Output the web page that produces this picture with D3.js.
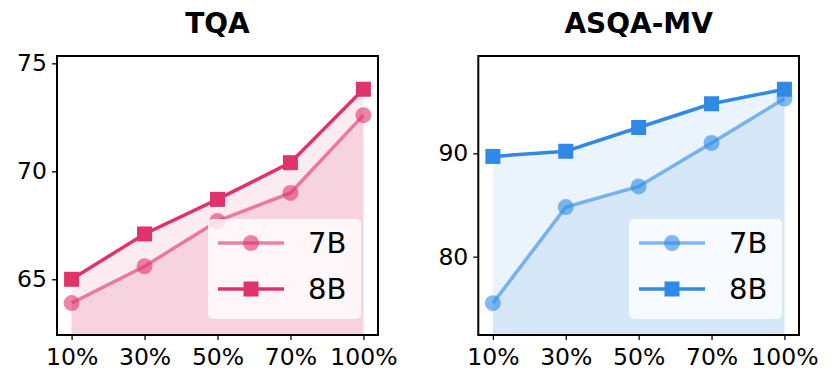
<!DOCTYPE html>
<html><head><meta charset="utf-8">
<script src="https://cdn.jsdelivr.net/npm/d3@7"></script>
<style>body{margin:0;background:#fff}svg{display:block;font-family:"DejaVu Sans",sans-serif}</style>
</head><body><svg id="c" width="831" height="385"></svg>
<script>
const categories = ["10%","30%","50%","70%","100%"];
const seriesNames = ["7B","8B"];
const tqa7B = [63.9, 65.6, 67.7, 69.0, 72.6];
const tqa8B = [65.0, 67.1, 68.7, 70.4, 73.8];
const asqa7B = [75.5, 84.8, 86.8, 91.0, 95.3];
const asqa8B = [89.7, 90.2, 92.5, 94.8, 96.2];
const tqaTicks = [65, 70, 75];
const asqaTicks = [80, 90];

const panels = [
  {title:"TQA", s7:tqa7B, s8:tqa8B, ticks:tqaTicks, domain:[62.42,75.34], x0:57, x1:378,
   c8:"#e0336b", fillLow:"#f7d3df", fillHigh:"#fcebf1"},
  {title:"ASQA-MV", s7:asqa7B, s8:asqa8B, ticks:asqaTicks, domain:[72.42,99.42], x0:478.3, x1:799,
   c8:"#2e8ae6", fillLow:"#d6e7f8", fillHigh:"#ebf3fc"}
];
const svg = d3.select("#c");
const plotTop = 56, plotBottom = 335;

panels.forEach(p => {
  const g = svg.append("g");
  const x = d3.scalePoint().domain(categories).range([p.x0, p.x1]).padding(0.2);
  const y = d3.scaleLinear().domain(p.domain).range([plotBottom, plotTop]);
  const idx = d3.range(categories.length);

  g.append("path").datum(idx).attr("fill", p.fillHigh)
    .attr("d", d3.area().x(i => x(categories[i])).y0(plotBottom).y1(i => y(p.s8[i])));
  g.append("path").datum(idx).attr("fill", p.fillLow)
    .attr("d", d3.area().x(i => x(categories[i])).y0(plotBottom).y1(i => y(p.s7[i])));

  const line = s => d3.line().x(i => x(categories[i])).y(i => y(s[i]));
  g.append("path").datum(idx).attr("fill","none").attr("stroke", p.c8).attr("stroke-opacity",0.6)
    .attr("stroke-width",3.5).attr("d", line(p.s7));
  g.selectAll(".c7").data(idx).enter().append("circle")
    .attr("cx", i => x(categories[i])).attr("cy", i => y(p.s7[i])).attr("r", 8)
    .attr("fill", p.c8).attr("fill-opacity",0.6);
  g.append("path").datum(idx).attr("fill","none").attr("stroke", p.c8)
    .attr("stroke-width",3.5).attr("d", line(p.s8));
  g.selectAll(".s8").data(idx).enter().append("rect")
    .attr("x", i => x(categories[i]) - 7.5).attr("y", i => y(p.s8[i]) - 7.5)
    .attr("width",15).attr("height",15).attr("fill", p.c8);

  const xa = g.append("g").attr("transform",`translate(0,${plotBottom})`)
    .call(d3.axisBottom(x).tickSize(5).tickPadding(8));
  xa.select(".domain").remove();
  xa.selectAll("line").attr("stroke","#000").attr("stroke-width",1.3);
  xa.selectAll("text").attr("font-size",23.5).attr("fill","#000").attr("font-family","DejaVu Sans");
  const ya = g.append("g").attr("transform",`translate(${p.x0},0)`)
    .call(d3.axisLeft(y).tickValues(p.ticks).tickSize(5).tickPadding(5));
  ya.select(".domain").remove();
  ya.selectAll("line").attr("stroke","#000").attr("stroke-width",1.3);
  ya.selectAll("text").attr("font-size",23.5).attr("fill","#000").attr("font-family","DejaVu Sans");

  g.append("rect").attr("x",p.x0).attr("y",plotTop).attr("width",p.x1-p.x0).attr("height",plotBottom-plotTop)
    .attr("fill","none").attr("stroke","#000").attr("stroke-width",2);

  g.append("text").attr("x",(p.x0+p.x1)/2).attr("y",33).attr("text-anchor","middle")
    .attr("font-size",28).attr("font-weight","bold").text(p.title);

  const lx = p.x1 - 170, ly = 219;
  const lg = g.append("g").attr("transform",`translate(${lx},${ly})`);
  lg.append("rect").attr("width",153).attr("height",100).attr("rx",5)
    .attr("fill","#fff").attr("fill-opacity",0.8);
  const rows = [{n:seriesNames[0], yy:24}, {n:seriesNames[1], yy:70}];
  lg.append("line").attr("x1",10).attr("x2",76).attr("y1",rows[0].yy).attr("y2",rows[0].yy)
    .attr("stroke",p.c8).attr("stroke-opacity",0.6).attr("stroke-width",3.5);
  lg.append("circle").attr("cx",43).attr("cy",rows[0].yy).attr("r",8).attr("fill",p.c8).attr("fill-opacity",0.6);
  lg.append("line").attr("x1",10).attr("x2",76).attr("y1",rows[1].yy).attr("y2",rows[1].yy)
    .attr("stroke",p.c8).attr("stroke-width",3.5);
  lg.append("rect").attr("x",35.5).attr("y",rows[1].yy-7.5).attr("width",15).attr("height",15).attr("fill",p.c8);
  rows.forEach(r => lg.append("text").attr("x",100).attr("y",r.yy).attr("dy","0.36em")
    .attr("font-size",29).text(r.n));
});
</script></body></html>
